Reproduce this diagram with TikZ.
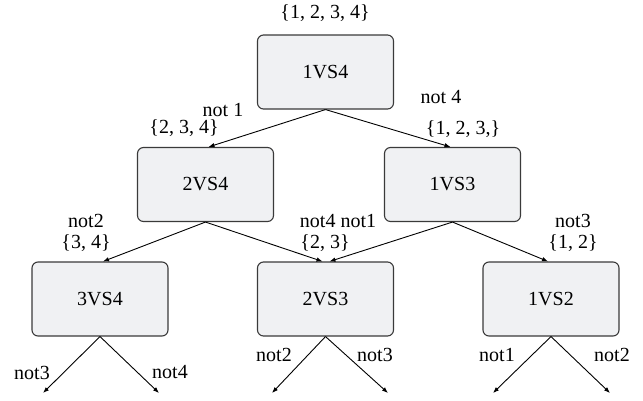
\documentclass[tikz,border=0pt]{standalone}
\usepackage{fontspec}
\setmainfont{Liberation Serif}
\usetikzlibrary{arrows.meta}
\definecolor{boxfill}{HTML}{F0F1F3}
\definecolor{boxline}{HTML}{3A3A3A}
\tikzset{
  x=1pt, y=-1pt,
  every node/.style={font=\fontsize{20}{22}\selectfont},
  vsbox/.style={draw=boxline, fill=boxfill, line width=1.1pt, rounded corners=6pt,
    minimum width=136pt, minimum height=74pt, inner sep=0pt},
  lbl/.style={inner sep=0pt},
  link/.style={line width=0.9pt, -{Latex[length=6pt,width=4.5pt]}}
}
\begin{document}
\begin{tikzpicture}
\useasboundingbox (0,0) rectangle (643,400);

% comparison boxes
\node[vsbox] (a)  at (325.5,72)  {1VS4};
\node[vsbox] (b1) at (205.5,184.5) {2VS4};
\node[vsbox] (b2) at (452.5,184.5) {1VS3};
\node[vsbox] (c1) at (100,299)   {3VS4};
\node[vsbox] (c2) at (325.5,299) {2VS3};
\node[vsbox] (c3) at (551,299)   {1VS2};

% open ends of the last level
\coordinate (e1) at (43,393);
\coordinate (e2) at (159,393);
\coordinate (e3) at (272,393);
\coordinate (e4) at (388,393);
\coordinate (e5) at (493,393);
\coordinate (e6) at (610,393);

% connectors
\draw[link] (a.south) -- ([xshift=3pt]b1.north);
\draw[link] (a.south) -- ([xshift=-2pt]b2.north);
\draw[link] (b1.south) -- ([xshift=3pt]c1.north);
\draw[link] (b1.south) -- ([xshift=-3pt]c2.north);
\draw[link] (b2.south) -- ([xshift=4pt]c2.north);
\draw[link] (b2.south) -- ([xshift=-3pt]c3.north);
\draw[link] (c1.south) -- (e1);
\draw[link] (c1.south) -- (e2);
\draw[link] (c2.south) -- (e3);
\draw[link] (c2.south) -- (e4);
\draw[link] (c3.south) -- (e5);
\draw[link] (c3.south) -- (e6);

% sets and edge labels
\node[lbl] (s0) at (325,13)  {\{1, 2, 3, 4\}};
\node[lbl] (l1) at (223,110) {not 1};
\node[lbl] (s1) at (184,128) {\{2, 3, 4\}};
\node[lbl] (l2) at (441,97)  {not 4};
\node[lbl] (s2) at (463,129) {\{1, 2, 3,\}};
\node[lbl] (l3) at (86,221)  {not2};
\node[lbl] (s3) at (86,243)  {\{3, 4\}};
\node[lbl] (l4) at (338,221) {not4 not1};
\node[lbl] (s4) at (325,243) {\{2, 3\}};
\node[lbl] (l5) at (573,221) {not3};
\node[lbl] (s5) at (573,243) {\{1, 2\}};

\node[lbl] (m1) at (32,373)  {not3};
\node[lbl] (m2) at (170,372) {not4};
\node[lbl] (m3) at (274,355) {not2};
\node[lbl] (m4) at (375,355) {not3};
\node[lbl] (m5) at (497,355) {not1};
\node[lbl] (m6) at (612,355) {not2};
\end{tikzpicture}
\end{document}
